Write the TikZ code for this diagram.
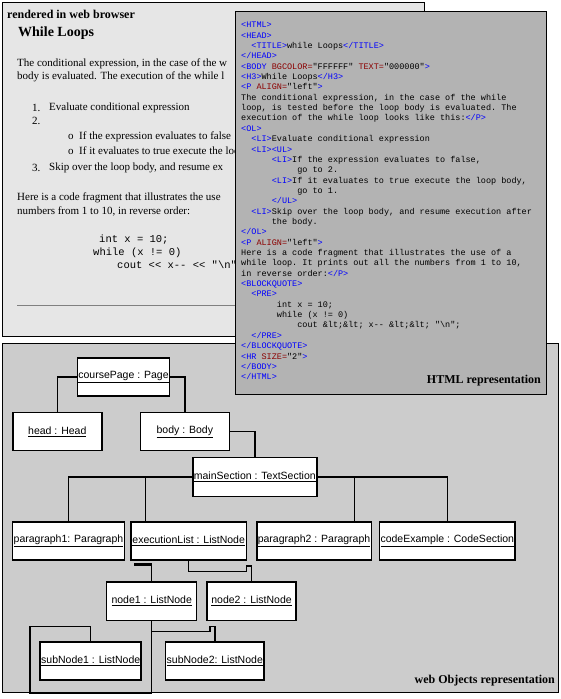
\documentclass[tikz,border=0pt]{standalone}
\usepackage{xcolor}
\usepackage{fontspec}
\setmainfont{Liberation Serif}
\setsansfont{Liberation Sans}
\setmonofont{Liberation Mono}
\usepackage{tikz}
\usetikzlibrary{positioning}
\definecolor{browserbg}{HTML}{E6E6E6}
\definecolor{htmlbg}{HTML}{B3B3B3}
\definecolor{objbg}{HTML}{CCCCCC}
\definecolor{tagblue}{HTML}{0000FF}
\definecolor{attred}{HTML}{8B0000}
\definecolor{rulegrey}{HTML}{808080}
\newcommand\htag[1]{\textcolor{tagblue}{#1}}
\newcommand\hatt[1]{\textcolor{attred}{#1}}
\newcommand\indt[1]{\hspace*{#1}}
\tikzset{
  panel/.style={draw=black, line width=1pt, fill=#1},
  ttl/.style={font=\bfseries\fontsize{12}{14}\selectfont, inner sep=0pt},
  prose/.style={font=\fontsize{11}{13}\selectfont, anchor=west, inner sep=0pt},
  pcode/.style={font=\ttfamily\fontsize{10.5}{12}\selectfont, anchor=west, inner sep=0pt},
  obj/.style={rectangle, draw=black, fill=white, line width=1.5pt,
              minimum height=38pt, inner sep=1pt,
              font=\sffamily\fontsize{10.5}{12}\selectfont},
  link/.style={line width=1.5pt},
}

\begin{document}
\begin{tikzpicture}[x=1pt, y=-1pt]
  \useasboundingbox (0,0) rectangle (560,699);

  % rendered page
  \draw[panel=browserbg] (2,2) rectangle (424,336);
  \node[ttl, anchor=west] (browserttl) at (7,14) {rendered in web browser};
  \begin{scope}
  \clip (2,2) rectangle (235,336);
  \node[font=\bfseries\fontsize{14}{16}\selectfont, anchor=west, inner sep=0pt] (pagehead) at (18,33) {While Loops};
  \node[prose] (para1a) at (17,64) {The conditional expression, in the case of the w};
  \node[prose] (para1b) at (17,77) {body is evaluated. The execution of the while l};
  \node[prose] (num1) at (32,108) {1.};
  \node[prose] (item1) at (49,108) {Evaluate conditional expression};
  \node[prose] (num2) at (32,121) {2.};
  \node[prose] (dot1) at (68,137) {o};
  \node[prose] (sub1) at (79,137) {If the expression evaluates to false};
  \node[prose] (dot2) at (68,152) {o};
  \node[prose] (sub2) at (79,152) {If it evaluates to true execute the loop};
  \node[prose] (num3) at (32,168) {3.};
  \node[prose] (item3) at (49,168) {Skip over the loop body, and resume ex};
  \node[prose] (para2a) at (17,198) {Here is a code fragment that illustrates the use};
  \node[prose] (para2b) at (17,211) {numbers from 1 to 10, in reverse order:};
  \node[pcode] (code1) at (99,240) {int x = 10;};
  \node[pcode] (code2) at (93,253) {while (x != 0)};
  \node[pcode] (code3) at (117,265) {cout << x-- << "\textbackslash n"};
  \draw[rulegrey, line width=1pt] (17,305) -- (300,305);
  \end{scope}

  % object model
  \draw[panel=objbg] (2,343) rectangle (558,692);
  \node[ttl, anchor=east] (objttl) at (555,681) {web Objects representation};

  % html source
  \draw[panel=htmlbg] (235,11) rectangle (546,394);
  \node[ttl, anchor=east] (htmlttl) at (541,381) {HTML representation};
  \node[font=\ttfamily\fontsize{8.5}{10.35}\selectfont, align=left, anchor=north west, inner sep=0pt] (source) at (241,22) {%
\htag{<HTML>}\\
\htag{<HEAD>}\\
\indt{1.2em}\htag{<TITLE>}while Loops\htag{</TITLE>}\\
\htag{</HEAD>}\\
\htag{<BODY} \hatt{BGCOLOR=}"FFFFFF" \hatt{TEXT=}"000000"\htag{>}\\
\htag{<H3>}While Loops\htag{</H3>}\\
\htag{<P} \hatt{ALIGN=}"left"\htag{>}\\
The conditional expression, in the case of the while\\
loop, is tested before the loop body is evaluated. The\\
execution of the while loop looks like this:\htag{</P>}\\
\htag{<OL>}\\
\indt{1.2em}\htag{<LI>}Evaluate conditional expression\\
\indt{1.2em}\htag{<LI><UL>}\\
\indt{3.6em}\htag{<LI>}If the expression evaluates to false,\\
\indt{6.6em}go to 2.\\
\indt{3.6em}\htag{<LI>}If it evaluates to true execute the loop body,\\
\indt{6.6em}go to 1.\\
\indt{3.6em}\htag{</UL>}\\
\indt{1.2em}\htag{<LI>}Skip over the loop body, and resume execution after\\
\indt{3.6em}the body.\\
\htag{</OL>}\\
\htag{<P} \hatt{ALIGN=}"left"\htag{>}\\
Here is a code fragment that illustrates the use of a\\
while loop. It prints out all the numbers from 1 to 10,\\
in reverse order:\htag{</P>}\\
\htag{<BLOCKQUOTE>}\\
\indt{1.2em}\htag{<PRE>}\\
\indt{4.2em}int x = 10;\\
\indt{4.2em}while (x != 0)\\
\indt{6.6em}cout \&lt;\&lt; x-- \&lt;\&lt; "\textbackslash n";\\
\indt{1.2em}\htag{</PRE>}\\
\htag{</BLOCKQUOTE>}\\
\htag{<HR} \hatt{SIZE=}"2"\htag{>}\\
\htag{</BODY>}\\
\htag{</HTML>}};

  % objects
  \node[obj, minimum width=91pt] (coursePage) at (123.5,377) {\underline{coursePage : Page}};
  \node[obj, minimum width=89pt] (head) at (57.3,431.5) {\underline{head : Head}};
  \node[obj, minimum width=89pt, right=37pt of head] (body) {\underline{body : Body}};
  \node[obj, minimum width=124pt, minimum height=39pt] (mainSection) at (254.8,477.2) {\underline{mainSection : TextSection}};
  \node[obj, minimum width=111.6pt] (paragraph1) at (68.5,541) {\underline{paragraph1: Paragraph}};
  \node[obj, minimum width=115.8pt, right=5pt of paragraph1] (executionList) {\underline{executionList : ListNode}};
  \node[obj, minimum width=113.3pt, right=8.7pt of executionList] (paragraph2) {\underline{paragraph2 : Paragraph}};
  \node[obj, minimum width=135pt, right=6.8pt of paragraph2] (codeExample) {\underline{codeExample : CodeSection}};
  \node[obj, minimum width=90pt, minimum height=38.5pt] (node1) at (151.7,601) {\underline{node1 : ListNode}};
  \node[obj, minimum width=88.7pt, minimum height=38.5pt, right=9pt of node1] (node2) {\underline{node2 : ListNode}};
  \node[obj, minimum width=100pt] (subNode1) at (90.7,661) {\underline{subNode1 : ListNode}};
  \node[obj, minimum width=98.3pt] (subNode2) at (214.8,661) {\underline{subNode2: ListNode}};

  \draw[link] (coursePage.west) -| (head.north);
  \draw[link] (coursePage.east) -| (body.north);
  \draw[link] (body.east) -| (mainSection.north);
  \draw[link] (mainSection.west) -| (paragraph1.north);
  \draw[link] ([xshift=15.3pt]executionList.north west) |- (mainSection.west);
  \draw[link] (mainSection.east) -| (codeExample.north);
  \draw[link] ([xshift=98.3pt]paragraph2.north west) |- (mainSection.east);
  \draw[link] (executionList.south) -- ++(0,10.7) -- ++(57.7,0) -- ++(0,-5.7) -| (node2.north);
  \draw[link] (node1.north) -- ++(0,-16.7) coordinate (stub);
  \draw[line width=2.5pt] (stub) -- ++(-17.7,0);
  \draw[link] (node1.south) -- ++(0,72) -| ++(-121.7,-66.3) -| (subNode1.north);
  \draw[link] (node1.south) ++(0,10.7) -- ++(58.3,0) -- ++(0,-5) -| (subNode2.north);
\end{tikzpicture}
\end{document}
